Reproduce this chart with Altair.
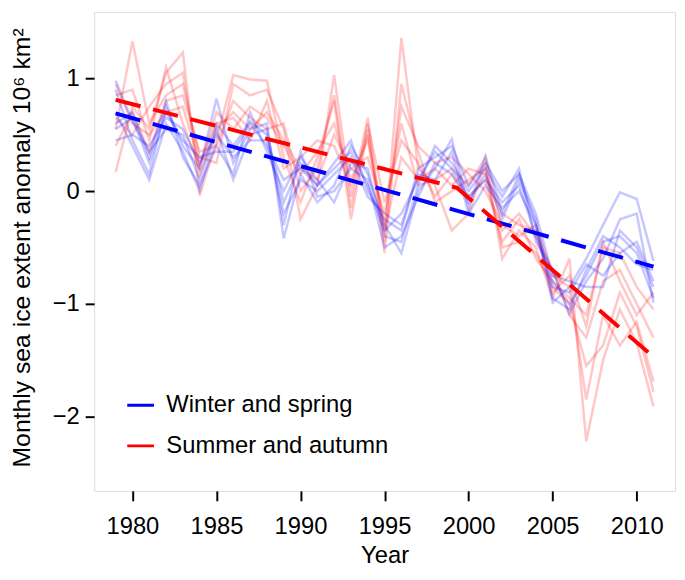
import altair as alt
import pandas as pd

years = list(range(1979, 2012))
groups = ["Winter and spring", "Summer and autumn"]
colors = ["#0000FF", "#FF0000"]

# winter & spring months (blue)
blue_1 = [0.98, 0.62, 0.35, 0.55, 0.50, 0.10, 0.60, 0.40, 0.62, 0.50, -0.10, 0.25, 0.05, 0.20, 0.35, 0.05, -0.35,
          -0.20, 0.10, 0.35, 0.20, -0.05, 0.10, -0.10, 0.05, -0.40, -0.80, -1.00, -0.75, -0.45, -0.40, -0.55, -0.95]
blue_2 = [0.90, 0.45, 0.15, 0.75, 0.40, 0.20, 0.82, 0.25, 0.55, 0.60, -0.42, 0.15, -0.10, 0.05, 0.40, 0.15, -0.30,
          -0.55, 0.00, 0.20, 0.46, -0.15, 0.31, -0.20, 0.15, -0.30, -0.99, -0.85, -0.60, -0.30, -0.01, -0.07, -0.62]
blue_3 = [0.60, 0.70, 0.30, 0.80, 0.30, 0.05, 0.40, 0.15, 0.70, 0.35, 0.00, 0.30, 0.10, -0.10, 0.25, 0.20, -0.40,
          -0.45, 0.05, 0.40, 0.25, 0.00, 0.20, -0.05, 0.20, -0.45, -0.70, -1.09, -0.80, -0.60, -0.25, -0.20, -0.99]
blue_4 = [0.45, 0.50, 0.40, 0.65, 0.55, 0.25, 0.50, 0.30, 0.45, 0.45, -0.20, 0.10, 0.00, 0.15, 0.30, -0.05, -0.20,
          -0.30, 0.15, 0.10, 0.35, -0.20, 0.05, -0.15, 0.00, -0.30, -0.85, -0.90, -0.65, -0.75, -0.55, -0.45, -0.80]
blue_5 = [0.70, 0.40, 0.10, 0.60, 0.35, 0.00, 0.55, 0.10, 0.50, 0.55, -0.30, 0.35, -0.05, 0.00, 0.20, 0.10, -0.50,
          -0.40, -0.05, 0.25, 0.15, -0.10, 0.15, -0.25, 0.10, -0.25, -0.95, -1.05, -0.70, -0.40, -0.50, -0.65, -0.70]
blue_6 = [0.55, 0.65, 0.25, 0.70, 0.45, 0.30, 0.35, 0.35, 0.60, 0.40, 0.10, 0.20, 0.05, 0.25, 0.45, 0.00, -0.25,
          -0.35, 0.20, 0.30, 0.40, 0.05, 0.25, 0.00, 0.15, -0.20, -0.75, -0.80, -0.85, -0.85, -0.35, -0.50, -0.85]

# summer & autumn months (red)
red_1 = [0.55, 1.33, 0.60, 0.85, 0.95, 0.30, 0.25, 0.95, 0.85, 0.90, 0.55, -0.25, 0.05, 1.03, -0.05, 0.65, -0.45,
         1.36, 0.20, 0.05, -0.35, -0.20, 0.25, -0.60, -0.35, -0.50, -0.95, -0.60, -2.22, -1.50, -1.05, -1.35, -1.91]
red_2 = [0.17, 0.75, 0.55, 1.05, 1.23, -0.04, 0.45, 1.03, 0.99, 0.98, 0.30, -0.10, 0.30, 0.80, -0.25, 0.55, -0.55,
         0.95, 0.35, -0.10, 0.00, 0.10, 0.20, -0.50, -0.45, -0.55, -0.85, -1.00, -1.55, -1.37, -0.90, -1.20, -1.78]
red_3 = [0.85, 0.90, 0.45, 1.10, 0.60, 0.20, 0.70, 0.55, 0.75, 0.65, 0.40, 0.15, 0.35, 0.60, 0.10, 0.45, -0.30,
         0.75, 0.40, 0.25, 0.30, 0.15, 0.00, -0.30, -0.40, -0.30, -0.75, -0.85, -1.85, -1.10, -1.37, -1.16, -1.69]
red_4 = [0.65, 0.50, 0.75, 0.95, 1.05, 0.15, 0.55, 0.70, 0.55, 0.70, 0.45, 0.20, 0.10, 0.50, 0.20, 0.30, -0.20,
         0.60, 0.05, 0.10, 0.20, 0.05, 0.30, -0.35, -0.20, -0.40, -0.70, -1.10, -1.30, -0.80, -0.70, -1.00, -1.30]
red_5 = [0.40, 0.70, 0.35, 0.80, 0.85, 0.35, 0.40, 0.80, 0.65, 0.55, 0.60, 0.00, 0.20, 0.85, -0.15, 0.60, -0.10,
         0.45, 0.25, -0.05, 0.15, -0.05, 0.10, -0.45, -0.25, -0.60, -0.80, -0.95, -1.10, -0.50, -0.55, -0.85, -1.05]
red_6 = [0.95, 0.60, 0.50, 0.70, 0.75, 0.25, 0.60, 0.65, 0.45, 0.80, 0.20, 0.30, 0.45, 0.40, 0.05, 0.50, -0.35,
         0.30, 0.10, 0.20, 0.05, 0.20, 0.15, -0.20, -0.30, -0.35, -0.90, -0.75, -1.20, -0.45, -0.80, -1.10, -0.90]

# fitted trends (dashed)
trend_blue_years = [1979, 2011]
trend_blue_values = [0.69, -0.67]
trend_red_years = [1979, 1999.3, 2011]
trend_red_values = [0.81, 0.03, -1.47]

series = [
    ("r1", red_1, groups[1]), ("r2", red_2, groups[1]), ("r3", red_3, groups[1]),
    ("r4", red_4, groups[1]), ("r5", red_5, groups[1]), ("r6", red_6, groups[1]),
    ("b1", blue_1, groups[0]), ("b2", blue_2, groups[0]), ("b3", blue_3, groups[0]),
    ("b4", blue_4, groups[0]), ("b5", blue_5, groups[0]), ("b6", blue_6, groups[0]),
]
rows = []
for name, vals, g in series:
    for yr, v in zip(years, vals):
        rows.append({"year": yr, "value": v, "series": name, "group": g})
df = pd.DataFrame(rows)

trows = []
for yr, v in zip(trend_blue_years, trend_blue_values):
    trows.append({"year": yr, "value": v, "group": groups[0]})
for yr, v in zip(trend_red_years, trend_red_values):
    trows.append({"year": yr, "value": v, "group": groups[1]})
tdf = pd.DataFrame(trows)

FONT = "Liberation Sans"

xscale = alt.Scale(domain=[1977.72, 2012.28], nice=False, zero=False)
yscale = alt.Scale(domain=[-2.66, 1.59], nice=False, zero=False)

xaxis = alt.Axis(values=[1980, 1985, 1990, 1995, 2000, 2005, 2010], format="d",
                 tickSize=10, tickWidth=2, tickColor="black", domain=False, grid=False,
                 labelFontSize=24, labelPadding=14, labelColor="black", labelFont=FONT,
                 title="Year", titleFontSize=24, titleFontWeight="normal", titleColor="black",
                 titleFont=FONT, titleY=72, titleBaseline="alphabetic")
yaxis = alt.Axis(values=[-2, -1, 0, 1], format="d", tickSize=9, tickWidth=2, tickColor="black",
                 domain=False, grid=False,
                 labelFontSize=24, labelPadding=6, labelColor="black", labelFont=FONT,
                 title="Monthly sea ice extent anomaly 10\u2076 km\u00b2", titleFontSize=25,
                 titleFontWeight="normal", titleColor="black", titleFont=FONT,
                 titleX=-65, titleY=238, titleAngle=270, titleAlign="center",
                 titleBaseline="alphabetic", titleLimit=600)

color_scale = alt.Scale(domain=groups, range=colors)

thin = alt.Chart(df).mark_line(strokeWidth=2.5, opacity=0.22, clip=True).encode(
    x=alt.X("year:Q", scale=xscale, axis=xaxis),
    y=alt.Y("value:Q", scale=yscale, axis=yaxis),
    color=alt.Color("group:N", scale=color_scale, sort=groups,
                    legend=alt.Legend(title=None, orient="none", legendX=32, legendY=382.5,
                                      symbolType="stroke", symbolSize=729, symbolStrokeWidth=3,
                                      symbolOpacity=1, symbolDash=[1, 0], rowPadding=14,
                                      labelOffset=11, padding=0, labelFontSize=24,
                                      labelLimit=500, labelFont=FONT, labelColor="black")),
    detail="series:N",
)

trend = alt.Chart(tdf).mark_line(strokeWidth=4, strokeDash=[26, 13], clip=True).encode(
    x=alt.X("year:Q", scale=xscale),
    y=alt.Y("value:Q", scale=yscale),
    color=alt.Color("group:N", scale=color_scale, sort=groups),
    detail="group:N",
)

chart = alt.layer(thin, trend).properties(
    width=587, height=484,
    autosize=alt.AutoSizeParams(type="none"),
    padding={"left": 87, "top": 1, "right": 2, "bottom": 78},
).configure_view(stroke="black", strokeWidth=2).configure(font=FONT)

chart.save("out.html", embed_options={"renderer": "svg", "actions": False})
